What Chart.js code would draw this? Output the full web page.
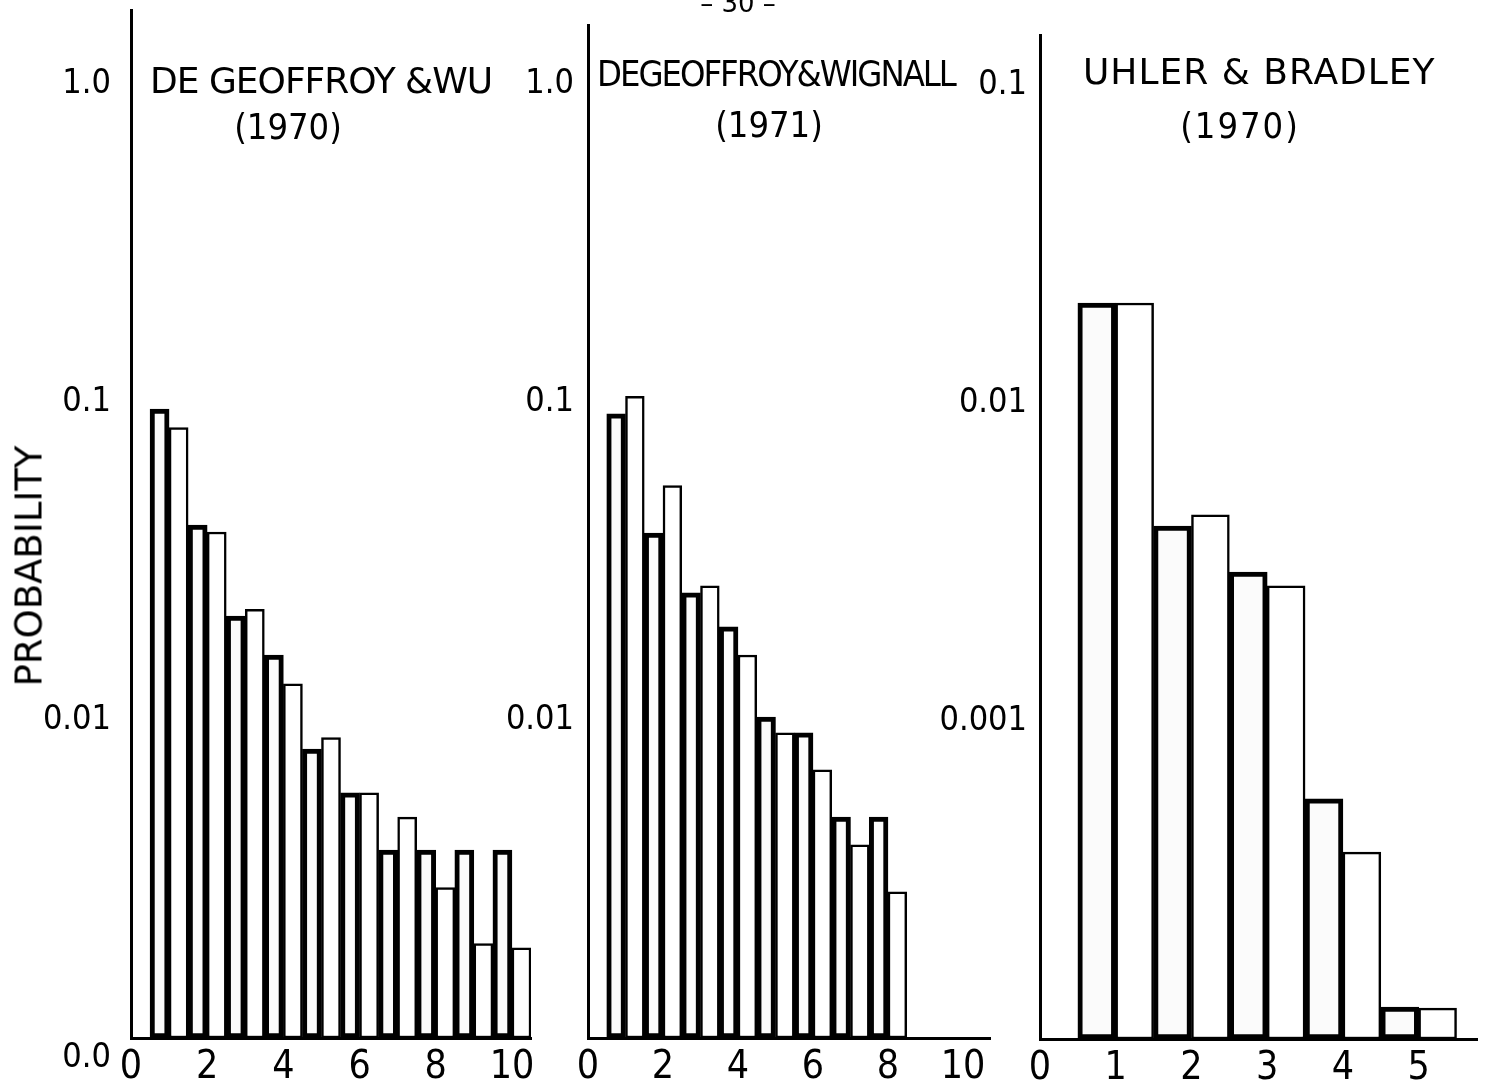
<!DOCTYPE html>
<html>
<head>
<meta charset="utf-8">
<script src="https://cdn.jsdelivr.net/npm/chart.js@4.4.1/dist/chart.umd.min.js"></script>
<style>
  html, body { margin: 0; padding: 0; background: #fff; }
  #page { position: relative; width: 1487px; height: 1086px; overflow: hidden; }
  canvas { position: absolute; top: 0; }
  .txt { position: absolute; white-space: nowrap; line-height: 1; color: #000;
         font-family: "DejaVu Sans", sans-serif; font-size: 36px; transform: translateY(-50%); }
  .mid { transform: translate(-50%, -50%); }
</style>
</head>
<body>
<div id="page">
  <canvas id="c1" width="560" height="1086" style="left:0px"></canvas>
  <canvas id="c2" width="530" height="1086" style="left:470px"></canvas>
  <canvas id="c3" width="557" height="1086" style="left:930px"></canvas>

  <div class="txt mid" style="left:738px; top:3px; font-size:26px;">– 30 –</div>
  <div class="txt mid" style="left:29px; top:566px; font-size:37px; transform: translate(-50%,-50%) rotate(-90deg);">PROBABILITY</div>

  <div class="txt" style="left:150px; top:81px; letter-spacing:-1px;">DE GEOFFROY &amp;WU</div>
  <div class="txt mid" style="left:288px; top:127px; font-family:'DejaVu Sans Condensed','DejaVu Sans';">(1970)</div>

  <div class="txt" style="left:597px; top:74px; letter-spacing:-2px; font-family:'DejaVu Sans Condensed','DejaVu Sans';">DEGEOFFROY&amp;WIGNALL</div>
  <div class="txt mid" style="left:769px; top:125px; font-family:'DejaVu Sans Condensed','DejaVu Sans';">(1971)</div>

  <div class="txt" style="left:1083px; top:72px; letter-spacing:1px;">UHLER &amp; BRADLEY</div>
  <div class="txt mid" style="left:1240px; top:126px; letter-spacing:2px; font-family:'DejaVu Sans Condensed','DejaVu Sans';">(1970)</div>
</div>
<script>
// --- data ---
// DeGeoffroy & Wu (1970)
const p1Bins = [1, 2, 3, 4, 5, 6, 7, 8, 9, 10];
const p1Shaded = [0.095, 0.041, 0.0212, 0.016, 0.0081, 0.0059, 0.0039, 0.0039, 0.0039, 0.0039];
const p1Open = [0.083, 0.039, 0.0223, 0.013, 0.0088, 0.0059, 0.00495, 0.00297, 0.00198, 0.00192];
const p1YTicks = [0.001, 0.01, 0.1, 1];
const p1YLabels = [["", "0.0"], "0.01", "0.1", "1.0"];
const p1XTicks = [0, 2, 4, 6, 8, 10];

// DeGeoffroy & Wignall (1971)
const p2Bins = [1, 2, 3, 4, 5, 6, 7, 8];
const p2Shaded = [0.0916, 0.0387, 0.0251, 0.0196, 0.0102, 0.0091, 0.00495, 0.00495];
const p2Open = [0.104, 0.0545, 0.0264, 0.016, 0.0091, 0.00697, 0.00405, 0.00288];
const p2YTicks = [0.01, 0.1, 1];
const p2YLabels = ["0.01", "0.1", "1.0"];
const p2XTicks = [0, 2, 4, 6, 8, 10];

// Uhler & Bradley (1970)
const p3Bins = [1, 2, 3, 4, 5];
const p3Shaded = [0.0206, 0.0041, 0.00294, 0.000569, 0.000126];
const p3Open = [0.0206, 0.00445, 0.00266, 0.000387, 0.000125];
const p3YTicks = [0.001, 0.01, 0.1];
const p3YLabels = ["0.001", "0.01", "0.1"];
const p3XTicks = [0, 1, 2, 3, 4, 5];

Chart.defaults.font.family = '"DejaVu Sans Condensed", "DejaVu Sans", sans-serif';
Chart.defaults.color = "#000";

function makePanel(id, cfg) {
  const pts = vals => cfg.bins.map((b, i) => ({ x: b, y: vals[i] }));
  return new Chart(document.getElementById(id), {
    type: "bar",
    data: {
      datasets: [
        { data: pts(cfg.shaded), backgroundColor: "#fbfbfb", borderColor: "#000",
          borderWidth: 5, borderSkipped: false },
        { data: pts(cfg.open), backgroundColor: "#fff", borderColor: "#000",
          borderWidth: 2.5, borderSkipped: false }
      ]
    },
    options: {
      responsive: false,
      animation: false,
      devicePixelRatio: 1,
      categoryPercentage: 1,
      barPercentage: 1,
      layout: { padding: { top: cfg.top, right: cfg.right, bottom: 0, left: 0 } },
      plugins: { legend: { display: false }, tooltip: { enabled: false } },
      scales: {
        x: {
          type: "linear",
          min: 0,
          max: cfg.xMax,
          offset: false,
          grid: { display: false, drawTicks: false, offset: false },
          border: { display: true, color: "#000", width: 3 },
          ticks: { padding: 6, font: { size: 39 } },
          afterBuildTicks: s => { s.ticks = cfg.xTicks.map(v => ({ value: v })); },
          afterFit: s => { s.height = 1086 - cfg.bottom; s.paddingLeft = 0; s.paddingRight = 0; }
        },
        y: {
          type: "logarithmic",
          min: cfg.yMin,
          max: cfg.yMax,
          grid: { display: false, drawTicks: false },
          border: { display: true, color: "#000", width: 3 },
          ticks: {
            padding: cfg.labelGap,
            font: { size: 34 },
            callback: (v, i) => cfg.yLabels[i]
          },
          afterBuildTicks: s => { s.ticks = cfg.yTicks.map(v => ({ value: v })); },
          afterFit: s => { s.width = cfg.axisLeft; s.paddingTop = 0; s.paddingBottom = 0; }
        }
      }
    }
  });
}

makePanel("c1", {
  bins: p1Bins, shaded: p1Shaded, open: p1Open,
  yTicks: p1YTicks, yLabels: p1YLabels, xTicks: p1XTicks,
  yMin: 0.001, yMax: 1.708, xMax: 10.5,
  top: 10, bottom: 1038, right: 560 - 531, axisLeft: 131, labelGap: 20
});

makePanel("c2", {
  bins: p2Bins, shaded: p2Shaded, open: p2Open,
  yTicks: p2YTicks, yLabels: p2YLabels, xTicks: p2XTicks,
  yMin: 0.001, yMax: 1.53, xMax: 10.72,
  top: 25, bottom: 1038, right: 530 - 520, axisLeft: 118, labelGap: 14
});

makePanel("c3", {
  bins: p3Bins, shaded: p3Shaded, open: p3Open,
  yTicks: p3YTicks, yLabels: p3YLabels, xTicks: p3XTicks,
  yMin: 0.0001, yMax: 0.1434, xMax: 5.77,
  top: 35, bottom: 1039, right: 557 - 547, axisLeft: 110, labelGap: 13
});
</script>
</body>
</html>
